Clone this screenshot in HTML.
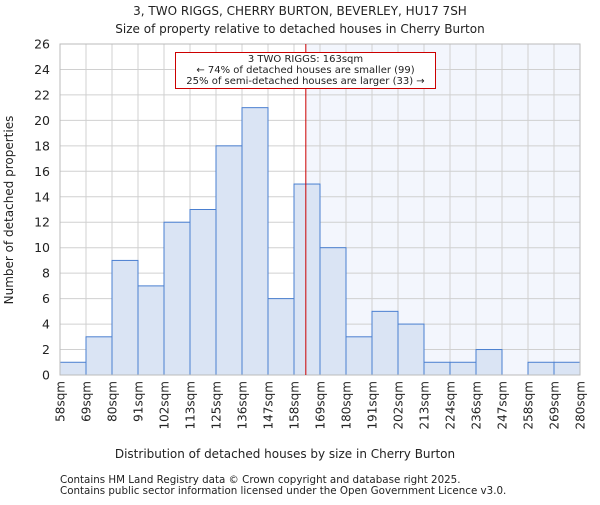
<!DOCTYPE html>
<html><head><meta charset="utf-8"><style>
body{margin:0;background:#fff}
svg text{font-family:"DejaVu Sans","Liberation Sans",sans-serif;fill:#222}
</style></head><body>
<svg id="c" width="600" height="500" viewBox="0 0 600 500">
<text x="300" y="15" text-anchor="middle" font-size="12">3, TWO RIGGS, CHERRY BURTON, BEVERLEY, HU17 7SH</text>
<text x="300" y="33" text-anchor="middle" font-size="12">Size of property relative to detached houses in Cherry Burton</text>
<g id="plot"></g>
<text x="285" y="458" text-anchor="middle" font-size="12">Distribution of detached houses by size in Cherry Burton</text>
<text transform="translate(13,210) rotate(-90)" text-anchor="middle" font-size="12">Number of detached properties</text>
<text x="60" y="483" font-size="10.3" fill="#444">Contains HM Land Registry data © Crown copyright and database right 2025.</text>
<text x="60" y="494" font-size="10.3" fill="#444">Contains public sector information licensed under the Open Government Licence v3.0.</text>
</svg>
<script>
const categories=["58sqm","69sqm","80sqm","91sqm","102sqm","113sqm","125sqm","136sqm","147sqm","158sqm","169sqm","180sqm","191sqm","202sqm","213sqm","224sqm","236sqm","247sqm","258sqm","269sqm","280sqm"];
const counts=[1,3,9,7,12,13,18,21,6,15,10,3,5,4,1,1,2,0,1,1];
const yTicks=[0,2,4,6,8,10,12,14,16,18,20,22,24,26];
const binEdges=[58,69,80,91,102,113,125,136,147,158,169,180,191,202,213,224,236,247,258,269,280];
const markerValue=163;
const annotationLines=["3 TWO RIGGS: 163sqm","← 74% of detached houses are smaller (99)","25% of semi-detached houses are larger (33) →"];

const NS="http://www.w3.org/2000/svg";
const L=60,R=580,T=44,B=375,yMax=26;
const n=counts.length, bw=(R-L)/n;
const xi=i=>L+i*bw;
const y=v=>B-(v/yMax)*(B-T);
const xv=v=>{for(let i=0;i<binEdges.length-1;i++){if(v<=binEdges[i+1])return xi(i)+(v-binEdges[i])/(binEdges[i+1]-binEdges[i])*bw;}return R;};
const g=document.getElementById('plot');
function mk(t,a,p){const e=document.createElementNS(NS,t);for(const k in a)e.setAttribute(k,a[k]);(p||g).appendChild(e);return e;}
const mx=xv(markerValue);
let e=mk('rect',{x:mx,y:T,width:R-mx,height:B-T,fill:'#f3f6fd'});


for(let i=0;i<=n;i++){e=mk('line',{x1:xi(i),x2:xi(i),y1:T,y2:B,stroke:'#d0d0d0','stroke-width':1});

}
yTicks.forEach(t=>{e=mk('line',{x1:L,x2:R,y1:y(t),y2:y(t),stroke:'#d0d0d0','stroke-width':1});


e=mk('text',{x:L-10,y:y(t)+4.5,'text-anchor':'end','font-size':12.5});e.textContent=t;

});
counts.forEach((c,i)=>{if(c<=0)return;e=mk('rect',{x:xi(i),y:y(c),width:bw,height:B-y(c),fill:'#dae4f4',stroke:'#4a7fd0','stroke-width':1});

});
categories.forEach((c,i)=>{e=mk('text',{transform:`translate(${xi(i)+4.5},381) rotate(-90)`,'text-anchor':'end','font-size':12});e.textContent=c;

});
e=mk('rect',{x:L,y:T,width:R-L,height:B-T,fill:'none',stroke:'#bbb'});


e=mk('line',{x1:mx,x2:mx,y1:T,y2:B,stroke:'#cc0000','stroke-width':1});


const box=mk('g',{});


mk('rect',{x:175.5,y:52.5,width:260,height:36,fill:'#fff',stroke:'#cc0000','stroke-width':1},box);
annotationLines.forEach((s,i)=>{e=mk('text',{x:305.5,y:62+i*11,'text-anchor':'middle','font-size':10},box);e.textContent=s;

});
</script>
</body></html>
